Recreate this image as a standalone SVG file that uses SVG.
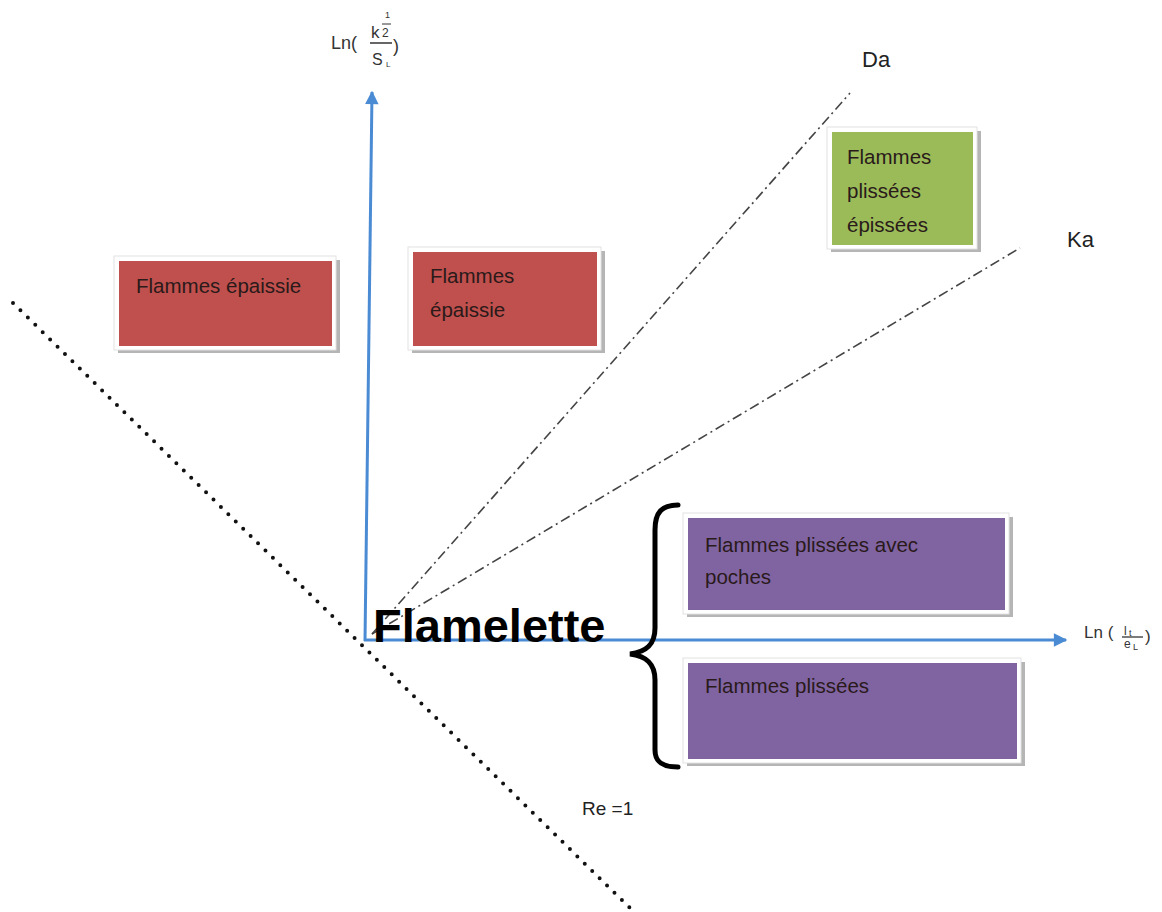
<svg xmlns="http://www.w3.org/2000/svg" width="1162" height="912" viewBox="0 0 1162 912">
<style>
.lbl{font-family:"Liberation Sans",Arial,sans-serif;fill:#222}
.box-text{font-family:"Liberation Sans",Arial,sans-serif;font-size:20.5px;fill:#2a1a1a}
.shadow{fill:#b5b5b5}
.frame{fill:#ffffff;stroke:#e2e2e2;stroke-width:1}
.axis{stroke:#4a8bd4;stroke-width:3;fill:none}
.dashdot{stroke:#444;stroke-width:1.6;fill:none;stroke-dasharray:10 4 2 4}
.small{font-family:"Liberation Sans",Arial,sans-serif;fill:#333}
</style>
<defs>
<marker id="arr" viewBox="0 0 10 10" refX="9" refY="5" markerWidth="5" markerHeight="4.5" orient="auto" markerUnits="strokeWidth">
<path d="M0,0 L10,5 L0,10 z" fill="#4a8bd4"/>
</marker>
</defs>
<rect width="1162" height="912" fill="#ffffff"/>

<g id="connectors">
<line x1="13" y1="303" x2="632" y2="910" stroke="#111" stroke-width="4" stroke-linecap="round" stroke-dasharray="0 10.4"/>
<line class="dashdot" x1="372" y1="634" x2="850" y2="93"/>
<line class="dashdot" x1="372" y1="634" x2="1020" y2="248"/>
<line class="axis" x1="365" y1="641" x2="372" y2="92" marker-end="url(#arr)"/>
<line class="axis" x1="364" y1="640" x2="1066" y2="640" marker-end="url(#arr)"/>
<path d="M 678 505 C 662 505 655 512 655 530 L 655 628 C 655 645 646 652 630 654 C 646 656 655 663 655 680 L 655 750 C 655 762 662 767 678 767" fill="none" stroke="#000" stroke-width="5" stroke-linecap="round"/>
</g>

<g id="axis-y-label">
<text class="small" x="331" y="49" font-size="18">Ln(</text>
<text class="small" x="371" y="38" font-size="17">k</text>
<text class="small" x="385" y="18" font-size="9">1</text>
<line x1="382" y1="24" x2="391" y2="24" stroke="#333" stroke-width="1"/>
<text class="small" x="382" y="37" font-size="12">2</text>
<line x1="370" y1="43" x2="392" y2="43" stroke="#333" stroke-width="1.5"/>
<text class="small" x="372" y="65" font-size="16">S</text>
<text class="small" x="386" y="67" font-size="8">L</text>
<text class="small" x="393" y="52" font-size="18">)</text>
</g>

<g id="axis-x-label">
<text class="small" x="1084" y="638" font-size="17">Ln (</text>
<text class="small" x="1124" y="635" font-size="12">l</text>
<text class="small" x="1129" y="636" font-size="9">t</text>
<line x1="1122" y1="637" x2="1143" y2="637" stroke="#333" stroke-width="1.3"/>
<text class="small" x="1124" y="648" font-size="12">e</text>
<text class="small" x="1133" y="650" font-size="9">L</text>
<text class="small" x="1145" y="642" font-size="17">)</text>
</g>

<g id="label-da"><text class="lbl" x="862" y="67" font-size="22">Da</text></g>
<g id="label-ka"><text class="lbl" x="1067" y="247" font-size="22">Ka</text></g>
<g id="label-re"><text class="lbl" x="582" y="815" font-size="19">Re =1</text></g>

<g id="box-left-red">
<rect class="shadow" x="118" y="260" width="222" height="93"/>
<rect class="frame" x="114" y="256" width="222" height="94"/>
<rect x="119" y="261" width="213" height="85" fill="#c0504d"/>
<text class="box-text" x="136" y="293">Flammes épaissie</text>
</g>

<g id="box-middle-red">
<rect class="shadow" x="412" y="251" width="193" height="102"/>
<rect class="frame" x="408" y="247" width="193" height="103"/>
<rect x="413" y="252" width="184" height="94" fill="#c0504d"/>
<text class="box-text" x="430" y="283">Flammes</text>
<text class="box-text" x="430" y="317">épaissie</text>
</g>

<g id="box-green">
<rect class="shadow" x="831" y="131" width="150" height="121"/>
<rect class="frame" x="827" y="127" width="150" height="122"/>
<rect x="832" y="132" width="141" height="113" fill="#9bbb59"/>
<text class="box-text" x="847" y="164">Flammes</text>
<text class="box-text" x="847" y="198">plissées</text>
<text class="box-text" x="847" y="232">épissées</text>
</g>

<g id="box-purple-top">
<rect class="shadow" x="687" y="517" width="326" height="100"/>
<rect class="frame" x="683" y="513" width="326" height="101"/>
<rect x="688" y="518" width="317" height="92" fill="#8064a2"/>
<text class="box-text" x="705" y="552">Flammes plissées avec</text>
<text class="box-text" x="705" y="584">poches</text>
</g>

<g id="box-purple-bottom">
<rect class="shadow" x="687" y="662" width="338" height="104"/>
<rect class="frame" x="683" y="658" width="338" height="105"/>
<rect x="688" y="663" width="329" height="96" fill="#8064a2"/>
<text class="box-text" x="705" y="693">Flammes plissées</text>
</g>

<g id="label-flamelette">
<text x="373" y="642" font-family="Liberation Sans,Arial,sans-serif" font-weight="bold" font-size="47" fill="#000">Flamelette</text>
</g>
</svg>
